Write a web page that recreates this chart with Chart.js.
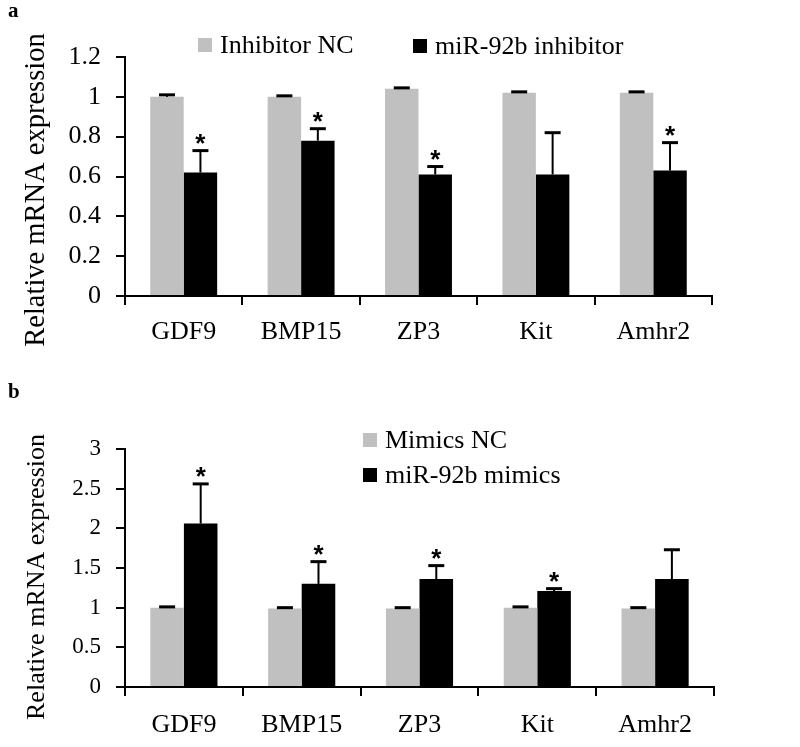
<!DOCTYPE html>
<html>
<head>
<meta charset="utf-8">
<script src="https://cdn.jsdelivr.net/npm/chart.js@4.4.0/dist/chart.umd.min.js"></script>
<style>
  body { margin: 0; background: #fff; }
  #wrap { position: relative; width: 800px; height: 747px; background: #fff; }
  canvas { position: absolute; left: 0; }
  #chartA { top: 0; }
  #chartB { top: 370px; }
</style>
</head>
<body>
<div id="wrap">
  <canvas id="chartA" width="800" height="370"></canvas>
  <canvas id="chartB" width="800" height="377"></canvas>
</div>
<script>
// genes on the x axis (both panels)
const genes = ['GDF9', 'BMP15', 'ZP3', 'Kit', 'Amhr2'];

// panel a: inhibitor experiment
const inhibitorNC = [1.0, 1.0, 1.04, 1.02, 1.02];
const inhibitorNCErr = [0.01, 0.005, 0.005, 0.005, 0.005];
const inhibitor92b = [0.62, 0.78, 0.61, 0.61, 0.63];
const inhibitor92bErr = [0.11, 0.06, 0.04, 0.21, 0.14];
const inhibitorStars = [true, true, true, false, true];
const yTicksA = [0, 0.2, 0.4, 0.6, 0.8, 1, 1.2];

// panel b: mimics experiment
const mimicsNC = [1.0, 0.99, 0.99, 1.0, 0.99];
const mimicsNCErr = [0.01, 0.01, 0.01, 0.01, 0.01];
const mimics92b = [2.06, 1.30, 1.36, 1.21, 1.36];
const mimics92bErr = [0.50, 0.28, 0.17, 0.03, 0.37];
const mimicsStars = [true, true, true, true, false];
const yTicksB = [0, 0.5, 1, 1.5, 2, 2.5, 3];

const GRAY = '#c0c0c0';
const BLACK = '#000000';
const SERIF = "'Liberation Serif', 'Times New Roman', serif";

// error bars, stars, legend, panel letter and y title
const extrasPlugin = {
  id: 'extras',
  afterDatasetsDraw(chart, args, opts) {
    const ctx = chart.ctx;
    const yScale = chart.scales.y;
    ctx.save();
    ctx.strokeStyle = BLACK;
    ctx.fillStyle = BLACK;
    chart.data.datasets.forEach((ds, i) => {
      const meta = chart.getDatasetMeta(i);
      meta.data.forEach((bar, j) => {
        const v = ds.data[j];
        const top = yScale.getPixelForValue(v + opts.errors[i][j]);
        const base = yScale.getPixelForValue(v);
        ctx.lineWidth = 2;
        ctx.beginPath();
        ctx.moveTo(bar.x, base);
        ctx.lineTo(bar.x, top);
        ctx.stroke();
        ctx.lineWidth = 3;
        ctx.beginPath();
        ctx.moveTo(bar.x - 8, top);
        ctx.lineTo(bar.x + 8, top);
        ctx.stroke();
        if (opts.stars[i] && opts.stars[i][j]) {
          ctx.font = "bold 26px 'Liberation Sans', Arial, sans-serif";
          ctx.textAlign = 'center';
          ctx.textBaseline = 'alphabetic';
          ctx.fillText('*', bar.x, top + 1);
        }
      });
    });

    // legend
    ctx.font = '26px ' + SERIF;
    ctx.textAlign = 'left';
    ctx.textBaseline = 'middle';
    opts.legend.forEach((item, i) => {
      const ds = chart.data.datasets[i];
      ctx.fillStyle = ds.backgroundColor;
      ctx.fillRect(item.x, item.y - 7, 14, 14);
      ctx.fillStyle = BLACK;
      ctx.fillText(ds.label, item.x + 22, item.y + 1);
    });

    // panel letter
    ctx.font = 'bold 21px ' + SERIF;
    ctx.textBaseline = 'alphabetic';
    ctx.fillText(opts.letter.text, opts.letter.x, opts.letter.y);

    // y axis title
    ctx.translate(opts.yTitle.x, opts.yTitle.y);
    ctx.rotate(-Math.PI / 2);
    ctx.font = opts.yTitle.size + 'px ' + SERIF;
    ctx.textAlign = 'center';
    ctx.textBaseline = 'middle';
    ctx.fillText('Relative mRNA expression', 0, 0);
    ctx.restore();
  }
};

function makePanel(id, cfg) {
  const ctx = document.getElementById(id).getContext('2d');
  return new Chart(ctx, {
    type: 'bar',
    data: {
      labels: genes,
      datasets: [{
        label: cfg.labels[0],
        data: cfg.series[0],
        backgroundColor: GRAY,
        categoryPercentage: 0.57,
        barPercentage: 1.0
      }, {
        label: cfg.labels[1],
        data: cfg.series[1],
        backgroundColor: BLACK,
        categoryPercentage: 0.57,
        barPercentage: 1.0
      }]
    },
    options: {
      responsive: false,
      animation: false,
      devicePixelRatio: 1,
      layout: { padding: { top: cfg.padTop, right: cfg.padRight, left: 0, bottom: 0 } },
      plugins: {
        legend: { display: false },
        tooltip: { enabled: false },
        extras: {
          errors: cfg.errors,
          stars: [null, cfg.stars],
          legend: cfg.legend,
          letter: cfg.letter,
          yTitle: cfg.yTitle
        }
      },
      scales: {
        x: {
          grid: { offset: true, drawOnChartArea: false, drawTicks: true, tickLength: 9, color: BLACK, lineWidth: 2 },
          border: { color: BLACK, width: 2 },
          ticks: { color: BLACK, padding: cfg.xPad, font: { family: SERIF, size: 26 } },
          afterFit(scale) { scale.height = cfg.xHeight; }
        },
        y: {
          min: cfg.yTicks[0],
          max: cfg.yTicks[cfg.yTicks.length - 1],
          afterBuildTicks(scale) { scale.ticks = cfg.yTicks.map(v => ({ value: v })); },
          grid: { drawOnChartArea: false, drawTicks: true, tickLength: 9, color: BLACK, lineWidth: 2 },
          border: { color: BLACK, width: 2 },
          ticks: {
            color: BLACK,
            padding: 15,
            font: { family: SERIF, size: cfg.yTickSize },
            callback: (v) => String(+v.toFixed(2))
          },
          afterFit(scale) { scale.width = 125; }
        }
      }
    },
    plugins: [extrasPlugin]
  });
}

makePanel('chartA', {
  labels: ['Inhibitor NC', 'miR-92b inhibitor'],
  series: [inhibitorNC, inhibitor92b],
  errors: [inhibitorNCErr, inhibitor92bErr],
  stars: inhibitorStars,
  yTicks: yTicksA,
  yTickSize: 26,
  padTop: 57,
  padRight: 88,
  xHeight: 74,
  xPad: 12,
  legend: [{ x: 198, y: 45 }, { x: 413, y: 46 }],
  letter: { text: 'a', x: 8, y: 17 },
  yTitle: { x: 37, y: 190, size: 28.5 }
});

makePanel('chartB', {
  labels: ['Mimics NC', 'miR-92b mimics'],
  series: [mimicsNC, mimics92b],
  errors: [mimicsNCErr, mimics92bErr],
  stars: mimicsStars,
  yTicks: yTicksB,
  yTickSize: 23,
  padTop: 79,
  padRight: 86,
  xHeight: 60,
  xPad: 14,
  legend: [{ x: 363, y: 70 }, { x: 363, y: 105 }],
  letter: { text: 'b', x: 8, y: 28 },
  yTitle: { x: 37, y: 207, size: 26 }
});
</script>
</body>
</html>
